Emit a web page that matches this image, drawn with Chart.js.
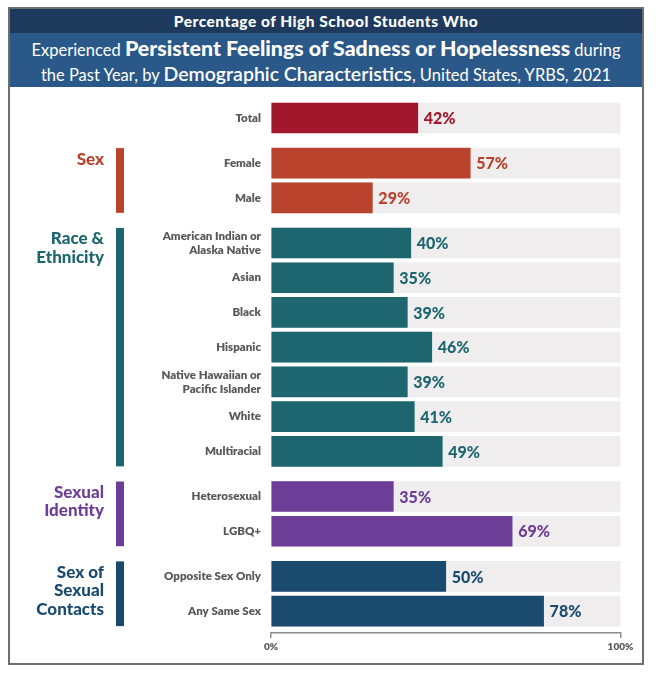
<!DOCTYPE html>
<html>
<head>
<meta charset="utf-8">
<script src="https://cdn.jsdelivr.net/npm/chart.js@4.4.1/dist/chart.umd.min.js"></script>
<style>
  body { margin: 0; width: 660px; height: 680px; position: relative; background: #fff; font-family: Lato, sans-serif; overflow: hidden; }
  #frame { position: absolute; left: 8px; top: 7px; width: 632px; height: 654px; border: 2px solid #6e6e6e; }
  #head1 { background: #1d3a5d; color: #fff; height: 24px; line-height: 25px; text-align: center; font-weight: 900; font-size: 15.5px; letter-spacing: 0.5px; }
  #head2 { background: #2a5888; color: #fff; height: 54px; text-align: center; font-size: 16.5px; line-height: 23px; padding-top: 4px; box-sizing: border-box; }
  #head2 b { font-size: 21.3px; font-weight: 900; }
  #head2 .m { font-size: 19.5px; font-weight: 600; }
  canvas { position: absolute; left: 0; top: 0; }
</style>
</head>
<body>
<div id="frame">
  <div id="head1">Percentage of High School Students Who</div>
  <div id="head2">Experienced <b>Persistent Feelings of Sadness or Hopelessness</b> during<br>the Past Year, by <span class="m">Demographic Characteristics</span>, United States, YRBS, 2021</div>
</div>
<canvas id="chart" width="660" height="680" style="width:660px;height:680px"></canvas>
<script>
// categories, top to bottom
const tickLabels = [
  'Total',
  'Female', 'Male',
  ['American Indian or', 'Alaska Native'], 'Asian', 'Black', 'Hispanic',
  ['Native Hawaiian or', 'Pacific Islander'], 'White', 'Multiracial',
  'Heterosexual', 'LGBQ+',
  'Opposite Sex Only', 'Any Same Sex'
];
const values = [42, 57, 29, 40, 35, 39, 46, 39, 41, 49, 35, 69, 50, 78];

// groups: how many rows each covers, their side label and colour
const groupSizes = [1, 2, 7, 2, 2];
const groupLabels = [[], ['Sex'], ['Race &', 'Ethnicity'], ['Sexual', 'Identity'], ['Sex of', 'Sexual', 'Contacts']];
const groupColors = ['#a3172c', '#b9432d', '#1d6670', '#6c3e97', '#1b4a6f'];

const axisTicks = [0, 100];
const trackColor = '#efedee';
const GROUP_GAP = 0.3;

// row position on the y scale and colour of each bar
const rowGroup = [];
groupSizes.forEach((n, g) => { for (let i = 0; i < n; i++) rowGroup.push(g); });
const positions = rowGroup.map((g, i) => i + g * GROUP_GAP);
const barColors = rowGroup.map(g => groupColors[g]);

const groupSides = {
  id: 'groupSides',
  afterDatasetsDraw(chart) {
    const { ctx } = chart;
    const bars = chart.getDatasetMeta(0).data;
    ctx.save();
    let start = 0;
    groupSizes.forEach((n, g) => {
      const first = bars[start], last = bars[start + n - 1];
      start += n;
      if (!groupLabels[g].length) return;
      const top = first.y - first.height / 2;
      const bottom = last.y + last.height / 2;
      ctx.fillStyle = groupColors[g];
      ctx.fillRect(116, top, 8, bottom - top);
      ctx.font = '900 17px Lato';
      ctx.textAlign = 'right';
      ctx.textBaseline = 'middle';
      groupLabels[g].forEach((line, k) => ctx.fillText(line, 104, top + 11 + k * 18.5));
    });
    // value labels
    ctx.font = '900 16px Lato';
    ctx.textAlign = 'left';
    bars.forEach((bar, i) => {
      ctx.fillStyle = barColors[i];
      ctx.fillText(values[i] + '%', bar.x + 6, bar.y + 1);
    });
    ctx.restore();
  }
};

function draw() {
  new Chart(document.getElementById('chart'), {
    type: 'bar',
    data: {
      datasets: [{
        data: values.map((v, i) => ({ x: v, y: positions[i] })),
        backgroundColor: barColors,
        barThickness: 30,
        grouped: false
      }, {
        data: positions.map(p => ({ x: 100, y: p })),
        backgroundColor: trackColor,
        barThickness: 30,
        grouped: false
      }]
    },
    options: {
      indexAxis: 'y',
      responsive: false,
      animation: false,
      layout: { padding: { top: 100.6, right: 39.5, left: 0, bottom: 17 } },
      plugins: { legend: { display: false }, tooltip: { enabled: false } },
      scales: {
        y: {
          type: 'linear',
          reverse: true,
          offset: false,
          bounds: 'data',
          min: -0.5,
          max: positions[positions.length - 1] + 0.63,
          afterBuildTicks: s => { s.ticks = positions.map(v => ({ value: v })); },
          afterFit: s => { s.width = 271; s.paddingTop = 0; s.paddingBottom = 0; },
          grid: { display: false, drawTicks: false, offset: false },
          border: { display: false },
          ticks: {
            autoSkip: false,
            padding: 10,
            color: '#595959',
            font: { family: 'Lato', weight: 800, size: 11.5, lineHeight: 1.2 },
            callback: (v, i) => tickLabels[i]
          }
        },
        x: {
          type: 'linear',
          min: 0,
          max: 100,
          afterBuildTicks: s => { s.ticks = axisTicks.map(v => ({ value: v })); },
          afterFit: s => { s.height = 30; },
          grid: { drawOnChartArea: false, tickLength: 5, color: '#8a8a8a', lineWidth: 1.5 },
          border: { display: true, color: '#8a8a8a', width: 1.5 },
          ticks: {
            padding: 3,
            color: '#595959',
            font: { family: 'Lato', weight: 800, size: 10 },
            callback: v => v + '%'
          }
        }
      }
    },
    plugins: [groupSides]
  });
}

Promise.all([document.fonts.load('900 12px Lato'), document.fonts.load('800 12px Lato'), document.fonts.load('600 12px Lato')])
  .then(draw, draw);
</script>
</body>
</html>
